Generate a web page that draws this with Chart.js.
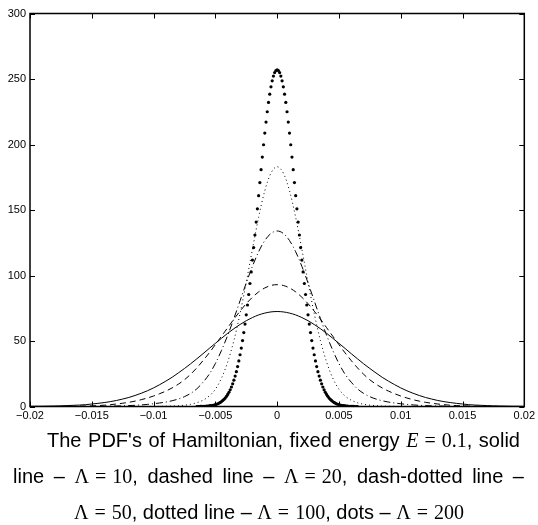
<!DOCTYPE html>
<html>
<head>
<meta charset="utf-8">
<script src="https://cdn.jsdelivr.net/npm/chart.js@4/dist/chart.umd.min.js"></script>
<style>
  body { margin: 0; background: #fff; }
  #wrap { position: relative; width: 538px; height: 525px; }
  #c { position: absolute; left: 0; top: 0; }
  .cap {
    position: absolute; white-space: nowrap;
    font-family: "Liberation Sans", Arial, sans-serif;
    font-size: 20px; line-height: 36px; height: 36px; color: #000;
  }
  .just { text-align: justify; text-align-last: justify; white-space: normal; }
  .m { font-family: "Liberation Serif", "DejaVu Serif", serif; font-size: 20px; white-space: nowrap; }
  .rel { margin: 0 0.3em; }
</style>
</head>
<body>
<div id="wrap">
  <canvas id="c" width="538" height="425"></canvas>
  <div class="cap just" style="top:422px; left:47px; width:473px;">The PDF's of Hamiltonian, fixed energy <span class="m"><i>E</i><span class="rel">=</span>0.1</span>, solid</div>
  <div class="cap just" style="top:458px; left:13px; width:511px;">line – <span class="m">Λ<span class="rel">=</span>10</span>, dashed line – <span class="m">Λ<span class="rel">=</span>20</span>, dash-dotted line –</div>
  <div class="cap" style="top:494px; left:0; width:538px; text-align:center;"><span class="m">Λ<span class="rel">=</span>50</span>, dotted line – <span class="m">Λ<span class="rel">=</span>100</span>, dots – <span class="m">Λ<span class="rel">=</span>200</span></div>
</div>
<script>
// sample positions of the four line curves
const lineX = [-0.02,-0.0195,-0.019,-0.0185,-0.018,-0.0175,-0.017,-0.0165,-0.016,-0.0155,
  -0.015,-0.0145,-0.014,-0.0135,-0.013,-0.0125,-0.012,-0.0115,-0.011,-0.0105,
  -0.01,-0.0095,-0.009,-0.0085,-0.008,-0.0075,-0.007,-0.0065,-0.006,-0.0055,
  -0.005,-0.0045,-0.004,-0.0035,-0.003,-0.0025,-0.002,-0.0015,-0.001,-0.0005,
  0,
  0.0005,0.001,0.0015,0.002,0.0025,0.003,0.0035,0.004,0.0045,0.005,
  0.0055,0.006,0.0065,0.007,0.0075,0.008,0.0085,0.009,0.0095,0.01,
  0.0105,0.011,0.0115,0.012,0.0125,0.013,0.0135,0.014,0.0145,0.015,
  0.0155,0.016,0.0165,0.017,0.0175,0.018,0.0185,0.019,0.0195,0.02];

// Lambda = 10 (solid)
const pdf10 = [0.1,0.2,0.2,0.3,0.4,0.5,0.7,0.9,1.1,1.4,1.9,2.4,3.0,3.7,4.6,5.7,6.9,8.4,10.1,12.0,
  14.2,16.7,19.4,22.3,25.6,29.0,32.6,36.4,40.3,44.3,48.2,52.1,55.9,59.4,62.6,65.5,67.9,69.9,71.3,72.2,
  72.5,
  72.2,71.3,69.9,67.9,65.5,62.6,59.4,55.9,52.1,48.2,44.3,40.3,36.4,32.6,29.0,25.6,22.3,19.4,16.7,14.2,
  12.0,10.1,8.4,6.9,5.7,4.6,3.7,3.0,2.4,1.9,1.4,1.1,0.9,0.7,0.5,0.4,0.3,0.2,0.2,0.1];

// Lambda = 20 (dashed)
const pdf20 = [0,0,0,0,0,0.1,0.1,0.2,0.3,0.4,0.5,0.7,1.0,1.4,1.9,2.5,3.2,4.1,5.2,6.5,
  8.0,9.8,11.8,14.2,17.0,20.4,24.6,29.5,35.0,40.9,47.2,53.7,60.2,66.7,72.8,78.5,83.4,87.5,90.5,92.4,
  93,
  92.4,90.5,87.5,83.4,78.5,72.8,66.7,60.2,53.7,47.2,40.9,35.0,29.5,24.6,20.4,17.0,14.2,11.8,9.8,8.0,
  6.5,5.2,4.1,3.2,2.5,1.9,1.4,1.0,0.7,0.5,0.4,0.3,0.2,0.1,0.1,0,0,0,0,0];

// Lambda = 50 (dash-dotted)
const pdf50 = [0,0,0,0,0,0,0,0,0,0,0.1,0.1,0.2,0.3,0.4,0.5,0.7,0.9,1.2,1.6,
  2.1,2.7,3.4,4.4,5.7,7.5,10.0,13.5,18.5,24.6,32.8,42.9,54.4,67.2,80.7,94.3,107.0,118.1,126.7,132.1,
  134,
  132.1,126.7,118.1,107.0,94.3,80.7,67.2,54.4,42.9,32.8,24.6,18.5,13.5,10.0,7.5,5.7,4.4,3.4,2.7,2.1,
  1.6,1.2,0.9,0.7,0.5,0.4,0.3,0.2,0.1,0.1,0,0,0,0,0,0,0,0,0,0];

// Lambda = 100 (dotted)
const pdf100 = [0,0,0,0,0,0,0,0,0,0,0,0,0,0,0,0,0,0,0,0,
  0,0.1,0.2,0.3,0.6,1.0,1.7,2.9,4.8,8.0,13.2,21.7,34.0,50.4,71.0,94.8,120.1,144.4,164.7,178.2,
  183,
  178.2,164.7,144.4,120.1,94.8,71.0,50.4,34.0,21.7,13.2,8.0,4.8,2.9,1.7,1.0,0.6,0.3,0.2,0.1,0,
  0,0,0,0,0,0,0,0,0,0,0,0,0,0,0,0,0,0,0,0];

// Lambda = 200 (dots), finer sampling
const dotsX = [-0.0065,-0.0064,-0.0063,-0.0062,-0.0061,-0.006,-0.0059,-0.0058,-0.0057,-0.0056,
  -0.0055,-0.0054,-0.0053,-0.0052,-0.0051,-0.005,-0.0049,-0.0048,-0.0047,-0.0046,
  -0.0045,-0.0044,-0.0043,-0.0042,-0.0041,-0.004,-0.0039,-0.0038,-0.0037,-0.0036,
  -0.0035,-0.0034,-0.0033,-0.0032,-0.0031,-0.003,-0.0029,-0.0028,-0.0027,-0.0026,
  -0.0025,-0.0024,-0.0023,-0.0022,-0.0021,-0.002,-0.0019,-0.0018,-0.0017,-0.0016,
  -0.0015,-0.0014,-0.0013,-0.0012,-0.0011,-0.001,-0.0009,-0.0008,-0.0007,-0.0006,
  -0.0005,-0.0004,-0.0003,-0.0002,-0.0001,
  0,
  0.0001,0.0002,0.0003,0.0004,0.0005,0.0006,0.0007,0.0008,0.0009,0.001,
  0.0011,0.0012,0.0013,0.0014,0.0015,0.0016,0.0017,0.0018,0.0019,0.002,
  0.0021,0.0022,0.0023,0.0024,0.0025,0.0026,0.0027,0.0028,0.0029,0.003,
  0.0031,0.0032,0.0033,0.0034,0.0035,0.0036,0.0037,0.0038,0.0039,0.004,
  0.0041,0.0042,0.0043,0.0044,0.0045,0.0046,0.0047,0.0048,0.0049,0.005,
  0.0051,0.0052,0.0053,0.0054,0.0055,0.0056,0.0057,0.0058,0.0059,0.006,
  0.0061,0.0062,0.0063,0.0064,0.0065];
const pdf200 = [0,0,0,0.1,0.1,0.1,0.2,0.2,0.3,0.4,0.5,0.6,0.7,0.9,1.1,1.4,1.7,2.1,2.6,3.1,
  3.8,4.6,5.5,6.5,7.8,9.2,10.8,12.7,14.9,17.3,20.1,23.2,26.6,30.5,34.8,39.5,44.6,50.3,56.4,62.9,
  70.0,77.5,85.5,93.9,102.7,111.8,121.3,130.9,140.8,150.9,160.9,170.9,180.8,190.4,199.8,208.7,217.1,225.0,232.1,238.4,
  244.0,248.6,252.2,254.9,256.5,
  257,
  256.5,254.9,252.2,248.6,244.0,
  238.4,232.1,225.0,217.1,208.7,199.8,190.4,180.8,170.9,160.9,150.9,140.8,130.9,121.3,111.8,102.7,93.9,85.5,77.5,70.0,
  62.9,56.4,50.3,44.6,39.5,34.8,30.5,26.6,23.2,20.1,17.3,14.9,12.7,10.8,9.2,7.8,6.5,5.5,4.6,3.8,
  3.1,2.6,2.1,1.7,1.4,1.1,0.9,0.7,0.6,0.5,0.4,0.3,0.2,0.2,0.1,0.1,0.1,0,0,0];

const xTicks = [-0.02, -0.015, -0.01, -0.005, 0, 0.005, 0.01, 0.015, 0.02];
const xTickLabels = ["\u22120.02", "\u22120.015", "\u22120.01", "\u22120.005", "0", "0.005", "0.01", "0.015", "0.02"];
const yTicks = [0, 50, 100, 150, 200, 250, 300];
const yTickLabels = ["0", "50", "100", "150", "200", "250", "300"];

const pts = (xs, ys) => xs.map((x, i) => ({ x: x, y: ys[i] }));

const tickFont = { family: "'Liberation Sans', Arial, sans-serif", size: 11 };

// box round the plot with inward tick marks, like the original figure
const framePlugin = {
  id: "frame",
  afterDatasetsDraw(chart) {
    const { ctx, chartArea: a, scales } = chart;
    const sx = scales.x, sy = scales.y;
    ctx.save();
    ctx.strokeStyle = "#000";
    ctx.lineWidth = 1;
    ctx.beginPath();
    xTicks.forEach((v) => {
      const px = Math.round(sx.getPixelForValue(v)) + 0.5;
      ctx.moveTo(px, a.bottom); ctx.lineTo(px, a.bottom - 5);
      ctx.moveTo(px, a.top); ctx.lineTo(px, a.top + 5);
    });
    yTicks.forEach((v) => {
      const py = Math.round(sy.getPixelForValue(v)) + 0.5;
      ctx.moveTo(a.left, py); ctx.lineTo(a.left + 5, py);
      ctx.moveTo(a.right, py); ctx.lineTo(a.right - 5, py);
    });
    ctx.stroke();
    ctx.lineWidth = 1.5;
    ctx.strokeRect(a.left, a.top, a.right - a.left, a.bottom - a.top);
    ctx.restore();
  },
};

const lineDs = (data, dash) => ({
  data: data,
  borderColor: "#000",
  borderWidth: 1,
  borderDash: dash,
  pointRadius: 0,
  showLine: true,
  cubicInterpolationMode: "monotone",
  fill: false,
});

new Chart(document.getElementById("c"), {
  type: "scatter",
  data: {
    datasets: [
      lineDs(pts(lineX, pdf10), []),
      lineDs(pts(lineX, pdf20), [6, 4]),
      lineDs(pts(lineX, pdf50), [7, 3, 1, 3]),
      lineDs(pts(lineX, pdf100), [1, 3]),
      {
        data: pts(dotsX, pdf200),
        showLine: false,
        pointRadius: 1.6,
        pointBorderWidth: 0,
        pointBackgroundColor: "#000",
      },
    ],
  },
  options: {
    responsive: false,
    animation: false,
    devicePixelRatio: 1,
    layout: { padding: { top: 13.5, right: 0.3, left: 0, bottom: 0 } },
    plugins: { legend: { display: false }, tooltip: { enabled: false } },
    scales: {
      x: {
        type: "linear",
        min: -0.02,
        max: 0.02,
        grid: { display: false, drawTicks: false },
        border: { display: false },
        afterBuildTicks: (s) => { s.ticks = xTicks.map((v) => ({ value: v })); },
        afterFit: (s) => { s.height = 18.5; },
        ticks: {
          color: "#000",
          font: tickFont,
          padding: 3,
          maxRotation: 0,
          autoSkip: false,
          callback: (v, i) => xTickLabels[i],
        },
      },
      y: {
        min: 0,
        max: 300,
        grid: { display: false, drawTicks: false },
        border: { display: false },
        afterBuildTicks: (s) => { s.ticks = yTicks.map((v) => ({ value: v })); },
        afterFit: (s) => { s.width = 30; },
        ticks: {
          color: "#000",
          font: tickFont,
          padding: 4,
          callback: (v, i) => yTickLabels[i],
        },
      },
    },
  },
  plugins: [framePlugin],
});
</script>
</body>
</html>
